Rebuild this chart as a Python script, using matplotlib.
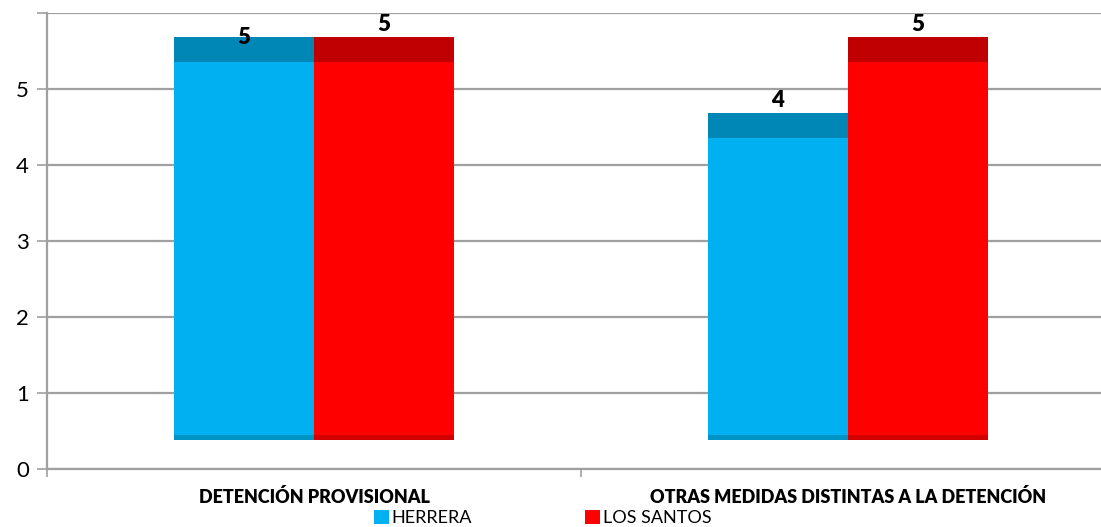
import matplotlib.pyplot as plt
import numpy as np

categories = ['DETENCIÓN PROVISIONAL', 'OTRAS MEDIDAS DISTINTAS A LA DETENCIÓN']
herrera = [5, 4]
los_santos = [5, 5]
series = ['HERRERA', 'LOS SANTOS']
colors = ['#00B0F0', '#FF0000']
cap_colors = ['#0087B5', '#C00000']

plt.rcParams['font.family'] = ['Lato', 'DejaVu Sans']

fig = plt.figure(figsize=(11.01, 5.27), dpi=100)
ax = fig.add_axes([0.0427, 0.110, 0.9573, 0.865])

x = np.arange(len(categories))
w = 0.262
base = 0.38      # pseudo-3D floor of the Excel bars
lift = 0.68      # bars drawn higher than their value (3D look)
cap = 0.32

for i, vals in enumerate([herrera, los_santos]):
    xs = x + (i - 0.5) * w
    vals = np.array(vals)
    tops = vals + lift
    ax.bar(xs, tops - base, bottom=base, width=w, color=colors[i], zorder=3, label=series[i])
    ax.bar(xs, cap, bottom=tops - cap, width=w, color=cap_colors[i], zorder=4)
    ax.bar(xs, 0.07, bottom=base, width=w, color=cap_colors[i], zorder=4, alpha=0.7)
    for j, (xx, v, t) in enumerate(zip(xs, vals, tops)):
        if i == 0 and j == 0:
            ax.text(xx, t, str(v), ha='center', va='center', fontsize=16, fontweight='heavy', zorder=5)
        else:
            ax.annotate(str(v), (xx, t), xytext=(0, 2), textcoords='offset points',
                        ha='center', va='bottom', fontsize=16, fontweight='heavy', zorder=5)

ax.set_xlim(-0.5, 1.474)
ax.set_ylim(0, 6)
ax.set_yticks([0, 1, 2, 3, 4, 5, 6])
ax.set_yticklabels(['0', '1', '2', '3', '4', '5', ''])
ax.yaxis.grid(True, color='#A0A0A0', linewidth=1.6, zorder=0)
ax.set_xticks(x)
ax.set_xticklabels(categories, fontsize=13, fontweight='heavy')
ax.set_xticks([-0.5, 0.5], minor=True)
ax.tick_params(axis='x', which='major', length=0, pad=14)
ax.tick_params(axis='x', which='minor', length=6, color='#A0A0A0', width=1.2)
ax.tick_params(axis='y', length=7, color='#A0A0A0', width=1.2, labelsize=16, pad=6)

for s in ['top', 'right']:
    ax.spines[s].set_visible(False)
for s in ['left', 'bottom']:
    ax.spines[s].set_color('#A0A0A0')
    ax.spines[s].set_linewidth(1.6)

handles, labels = ax.get_legend_handles_labels()
fig.legend(handles, labels, loc='center', bbox_to_anchor=(0.493, 0.017), ncol=2,
           frameon=False, fontsize=13, handlelength=0.85, handleheight=0.85,
           handletextpad=0.15, columnspacing=6.25, borderpad=0)

fig.savefig('out.png', dpi=100)
